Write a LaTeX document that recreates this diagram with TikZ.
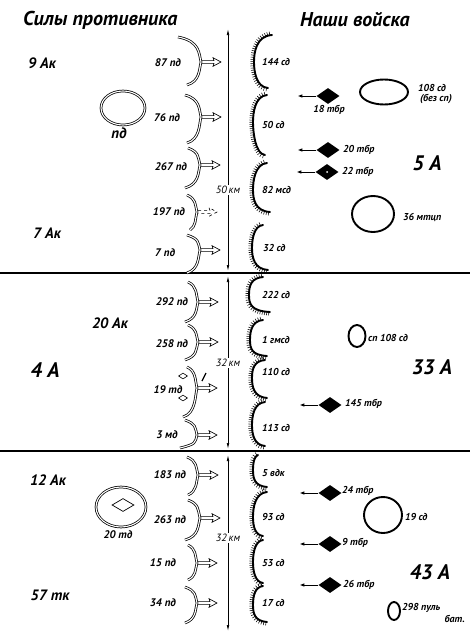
\documentclass[tikz,border=0pt]{standalone}
\usepackage{fontspec}
\setmainfont{PT Sans}
\usetikzlibrary{shapes.geometric,decorations.markings,arrows.meta}

\tikzset{
  lab/.style={font=\itshape\bfseries\fontsize{11}{12}\selectfont, inner sep=0pt},
  rlab/.style={font=\itshape\bfseries\fontsize{10}{11}\selectfont, inner sep=0pt},
  army/.style={font=\itshape\bfseries\fontsize{15}{16}\selectfont, inner sep=0pt},
  bigarmy/.style={font=\itshape\bfseries\fontsize{21}{22}\selectfont, inner sep=0pt},
  head/.style={font=\itshape\bfseries\fontsize{20}{21}\selectfont, inner sep=0pt},
  dimlab/.style={font=\itshape\fontsize{10.5}{11}\selectfont, fill=white, inner sep=1pt},
  enemy/.style={draw=black, double=white, double distance=1.1pt, line width=0.75pt},
  ours/.style={line width=1.9pt, line cap=round,
    postaction={decorate, decoration={markings,
      mark=between positions 0.02 and 0.98 step 2.1pt with {\draw[line width=0.55pt] (0,0) -- (0,3.4pt);}}}},
  ourring/.style={ellipse, draw, line width=1.9pt, inner sep=0pt},
  enring/.style={ellipse, enemy, inner sep=0pt},
  tank/.style={diamond, fill=black, minimum width=23pt, minimum height=16pt, inner sep=0pt},
  tankarrow/.style={line width=1pt, -{Latex[length=5pt,width=3.5pt]}},
  dimline/.style={line width=0.7pt, {Latex[length=6pt,width=2.6pt]}-{Latex[length=6pt,width=2.6pt]}},
  sepline/.style={line width=1.1pt},
  earrow/.pic={\draw[line width=0.65pt] (0,-1.4) -- (12,-1.4) -- (11,-4.3) -- (19,0) -- (11,4.3) -- (12,1.4) -- (0,1.4);}
}

% enemy bracket: top (x,y), tip (x,y), bottom (x,y)
\newcommand{\enbr}[6]{%
  \draw[enemy] (#1,#2) .. controls ({#3-1},{#2+4}) and ({#3-2},{#4-8}) .. (#3,#4)
     .. controls ({#3-2},{#4+8}) and ({#3-1},{#6-4}) .. (#5,#6);}
% our bracket: top (x,y), leftmost (x,y), bottom (x,y); drawn bottom -> top
\newcommand{\ourbr}[6]{%
  \draw[ours] (#5,#6) .. controls ({#3+2},{#6-1}) and ({#3},{#4+9}) .. (#3,#4)
     .. controls ({#3},{#4-9}) and ({#3+2},{#2+1}) .. (#1,#2);}

\begin{document}
\begin{tikzpicture}[x=1pt,y=-1pt]
\useasboundingbox (0,0) rectangle (476,640);

% headers
\node[head, anchor=west] (hL) at (23,20) {Силы противника};
\node[head, anchor=west] (hR) at (300,20) {Наши войска};

% separator lines
\coordinate (h1a) at (0,273); \coordinate (h1b) at (470,273);
\coordinate (h2a) at (0,451); \coordinate (h2b) at (470,451);
\draw[sepline] (h1a) -- (h1b);
\draw[sepline] (h2a) -- (h2b);

% scale line
\coordinate (s0) at (228,29);  \coordinate (s1) at (228,271);
\coordinate (s2) at (228,276); \coordinate (s3) at (228,449);
\coordinate (s4) at (228,455); \coordinate (s5) at (228,631);
\draw[dimline] (s0) -- (s1);
\draw[dimline] (s2) -- (s3);
\draw[dimline] (s4) -- (s5);
\node[dimlab] (k1) at (228,190) {50\,км};
\node[dimlab] (k2) at (228,363) {32\,км};
\node[dimlab] (k3) at (228,538) {32\,км};

% enemy brackets and arrows
\enbr{178}{37}{201}{62}{187}{85}   \pic at (202,62) {earrow};
\enbr{185}{95}{201}{117}{187}{143} \pic at (202,117) {earrow};
\enbr{188}{148}{200}{165}{185}{188} \pic at (201,165) {earrow};
\enbr{187}{195}{197}{212}{190}{230} \pic[dashed] at (198,212) {earrow};
\enbr{187}{235}{200}{250}{187}{273} \pic at (201,250) {earrow};
\enbr{188}{282}{198}{302}{185}{322} \pic at (199,302) {earrow};
\enbr{188}{325}{198}{342}{185}{360} \pic at (199,342) {earrow};
\enbr{187}{367}{197}{388}{183}{417} \pic at (198,388) {earrow};
\enbr{185}{420}{197}{435}{180}{448} \pic at (198,435) {earrow};
\enbr{187}{457}{198}{475}{188}{495} \pic at (199,475) {earrow};
\enbr{188}{500}{200}{518}{185}{540} \pic at (201,518) {earrow};
\enbr{188}{545}{197}{563}{188}{580} \pic at (198,563) {earrow};
\enbr{185}{587}{197}{603}{185}{623} \pic at (198,603) {earrow};

% enemy unit labels
\node[lab] (e87) at (168,63) {87 пд};
\node[lab] (e76) at (167,118) {76 пд};
\node[lab] (e267) at (171,167) {267 пд};
\node[lab] (e197) at (169,212) {197 пд};
\node[lab] (e7) at (165,253) {7 пд};
\node[lab] (e292) at (172,302) {292 пд};
\node[lab] (e258) at (172,344) {258 пд};
\node[lab] (e19) at (168,390) {19 тд};
\node[lab] (e3) at (167,435) {3 мд};
\node[lab] (e183) at (170,475) {183 пд};
\node[lab] (e263) at (170,520) {263 пд};
\node[lab] (e15) at (163,563) {15 пд};
\node[lab] (e34) at (163,603) {34 пд};

% 19 td small marks
\node[diamond, draw, line width=0.6pt, minimum width=9pt, minimum height=6pt, inner sep=0pt] (d19a) at (183,376) {};
\node[diamond, draw, line width=0.6pt, minimum width=9pt, minimum height=6pt, inner sep=0pt] (d19b) at (183,398) {};
\draw[line width=1.2pt] (202,381) -- (206,373);

% enemy formations
\node[enring, minimum width=44pt, minimum height=34pt] (pdring) at (123,108) {};
\node[army] (pdlab) at (119,133) {пд};
\node[enring, minimum width=50pt, minimum height=40pt] (td20) at (121,507) {};
\node[diamond, draw, line width=0.7pt, minimum width=22pt, minimum height=13pt, inner sep=0pt] (td20d) at (123,505) {};
\node[lab] (td20lab) at (118,535) {20 тд};

% enemy corps / armies
\node[army] (a9) at (42,63) {9 Ак};
\node[army] (a7) at (47,233) {7 Ак};
\node[army] (a20) at (110,323) {20 Ак};
\node[bigarmy] (a4) at (45,370) {4 А};
\node[army] (a12) at (48,480) {12 Ак};
\node[army] (a57) at (50,595) {57 тк};

% our brackets
\ourbr{272}{35}{254}{62}{268}{88}
\ourbr{267}{95}{253}{122}{265}{155}
\ourbr{267}{163}{253}{190}{270}{212}
\ourbr{263}{225}{252}{248}{268}{270}
\ourbr{263}{277}{249}{295}{270}{312}
\ourbr{263}{320}{250}{340}{267}{356}
\ourbr{265}{360}{252}{378}{267}{398}
\ourbr{265}{402}{252}{425}{265}{446}
\ourbr{258}{455}{253}{470}{267}{487}
\ourbr{267}{492}{253}{517}{263}{536}
\ourbr{263}{540}{253}{562}{263}{583}
\ourbr{263}{586}{253}{605}{267}{622}

% our unit labels
\node[rlab, anchor=west] (o144) at (262,62) {144 сд};
\node[rlab, anchor=west] (o50) at (262,125) {50 сд};
\node[rlab, anchor=west] (o82) at (262,190) {82 мсд};
\node[rlab, anchor=west] (o32) at (263,248) {32 сд};
\node[rlab, anchor=west] (o222) at (262,295) {222 сд};
\node[rlab, anchor=west] (o1) at (262,340) {1 гмсд};
\node[rlab, anchor=west] (o110) at (262,372) {110 сд};
\node[rlab, anchor=west] (o113) at (262,428) {113 сд};
\node[rlab, anchor=west] (o5) at (262,473) {5 вдк};
\node[rlab, anchor=west] (o93) at (262,517) {93 сд};
\node[rlab, anchor=west] (o53) at (262,563) {53 сд};
\node[rlab, anchor=west] (o17) at (262,603) {17 сд};

% tank brigades
\node[tank] (t18) at (328,96) {};
\draw[tankarrow] (t18.west) -- ++(-19,0);
\node[rlab] (t18l) at (329,110) {18 тбр};
\node[tank] (t20) at (328,150) {};
\draw[tankarrow] (t20.west) -- ++(-19,0);
\node[rlab, anchor=west] (t20l) at (343,150) {20 тбр};
\node[tank] (t22) at (327,172) {};
\fill[white] (t22) circle (1pt);
\draw[tankarrow] (t22.west) -- ++(-19,0);
\node[rlab, anchor=west] (t22l) at (342,172) {22 тбр};
\node[tank] (t145) at (330,405) {};
\draw[tankarrow] (t145.west) -- ++(-19,0);
\node[rlab, anchor=west] (t145l) at (345,404) {145 тбр};
\node[tank] (t24) at (330,493) {};
\draw[tankarrow] (t24.west) -- ++(-19,0);
\node[rlab, anchor=west] (t24l) at (342,491) {24 тбр};
\node[tank] (t9) at (330,544) {};
\draw[tankarrow] (t9.west) -- ++(-19,0);
\node[rlab, anchor=west] (t9l) at (342,543) {9 тбр};
\node[tank] (t26) at (330,585) {};
\draw[tankarrow] (t26.west) -- ++(-19,0);
\node[rlab, anchor=west] (t26l) at (343,585) {26 тбр};

% our reserves
\node[ourring, minimum width=48pt, minimum height=25pt] (r108) at (384,92) {};
\node[rlab] (r108a) at (432,88) {108 сд};
\node[rlab] (r108b) at (436,99) {(без сп)};
\node[ourring, minimum width=42pt, minimum height=36pt] (r36) at (373,214) {};
\node[rlab, anchor=west] (r36l) at (403,217) {36 мтцп};
\node[ourring, minimum width=17pt, minimum height=22pt] (rsp) at (357,336) {};
\node[rlab, anchor=west] (rspl) at (368,338) {сп 108 сд};
\node[ourring, minimum width=38pt, minimum height=36pt] (r19) at (383,515) {};
\node[rlab, anchor=west] (r19l) at (405,517) {19 сд};
\node[ourring, minimum width=12pt, minimum height=18pt] (r298) at (394,611) {};
\node[rlab, anchor=west] (r298a) at (402,608) {298 пуль};
\node[rlab, anchor=east] (r298b) at (465,619) {бат.};

% our armies
\node[bigarmy] (A5) at (427,163) {5 А};
\node[bigarmy] (A33) at (432,367) {33 А};
\node[bigarmy] (A43) at (430,572) {43 А};
\end{tikzpicture}
\end{document}
